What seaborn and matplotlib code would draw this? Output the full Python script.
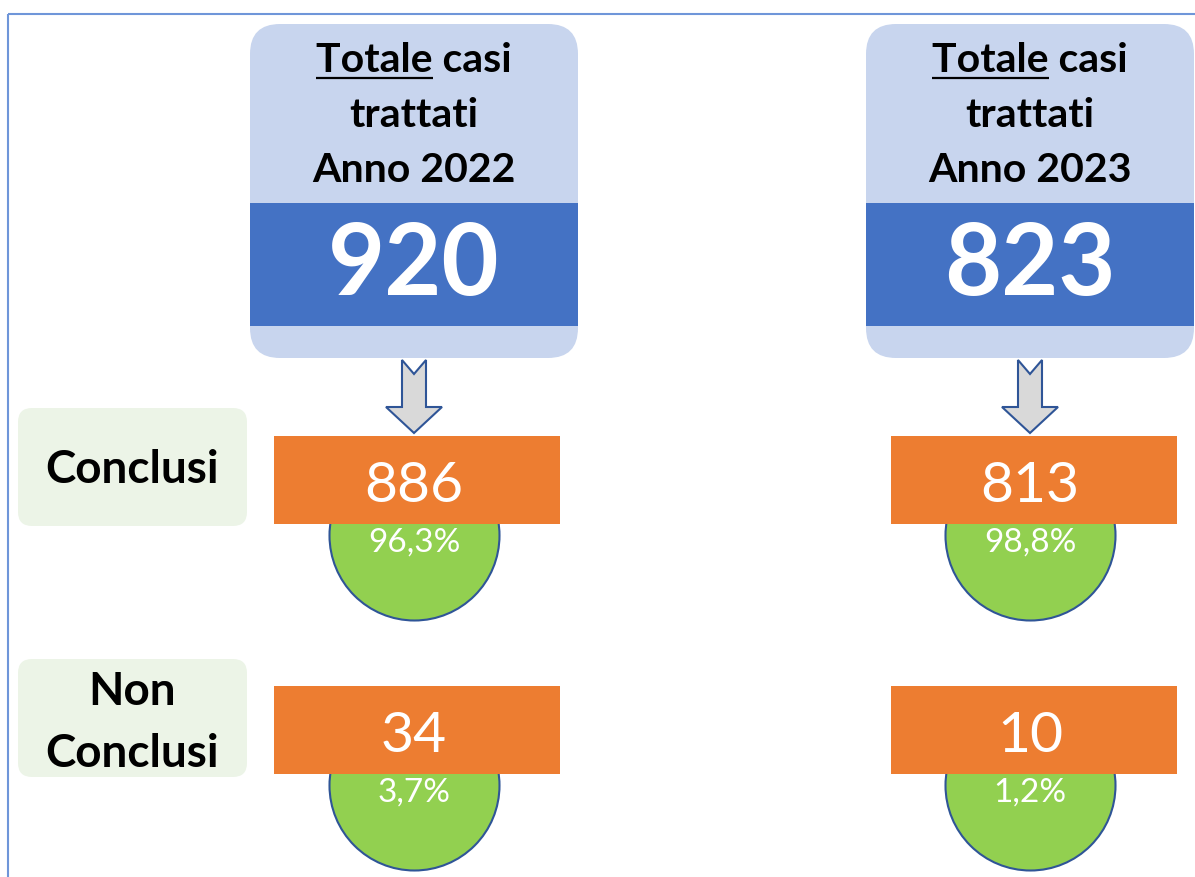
import numpy as np
import pandas as pd
import matplotlib
matplotlib.use("Agg")
import matplotlib.pyplot as plt
import seaborn as sns
from matplotlib.patches import FancyBboxPatch, Rectangle, Polygon

# Data
years = ["2022", "2023"]
totali = [920, 823]
conclusi = [886, 813]
non_conclusi = [34, 10]
pct_conclusi = ["96,3%", "98,8%"]
pct_non_conclusi = ["3,7%", "1,2%"]

sns.set_theme(style="white")
plt.rcParams["font.family"] = ["Lato", "DejaVu Sans"]

W, H = 1195, 877
fig = plt.figure(figsize=(W / 100, H / 100), dpi=100)
ax = fig.add_axes([0, 0, 1, 1])
ax.set_xlim(0, W)
ax.set_ylim(H, 0)
ax.axis("off")

LIGHT_BLUE = "#C8D5EE"
DARK_BLUE = "#4472C4"
ORANGE = "#ED7D31"
GREEN = "#92D050"
EDGE = "#2F5597"
LABEL_BG = "#ECF4E7"
HEAD_FS = 29.5

# outer frame (cut by the image edges)
ax.add_patch(Rectangle((8, 14), W + 20, H + 20, fill=False, ec="#6F96D9", lw=1.5, zorder=0))

# layout of the two columns
col_x0 = [250, 866]
col_w = 328
centers = [x + col_w / 2 for x in col_x0]

renderer = fig.canvas.get_renderer()

for i, cx in enumerate(centers):
    x0 = col_x0[i]
    # header card
    ax.add_patch(FancyBboxPatch((x0, 24), col_w, 334,
                                boxstyle="round,pad=0,rounding_size=30",
                                fc=LIGHT_BLUE, ec="none", zorder=1))
    ax.add_patch(Rectangle((x0, 203), col_w, 123, fc=DARK_BLUE, ec="none", zorder=2))

    t = ax.text(cx, 72, "Totale casi", ha="center", va="baseline",
                fontsize=HEAD_FS, fontweight="bold", color="black", zorder=3)
    ax.text(cx, 127, "trattati", ha="center", va="baseline",
            fontsize=HEAD_FS, fontweight="bold", color="black", zorder=3)
    ax.text(cx, 182, f"Anno {years[i]}", ha="center", va="baseline",
            fontsize=HEAD_FS, fontweight="bold", color="black", zorder=3)
    # underline "Totale"
    bb = t.get_window_extent(renderer)
    tmp = ax.text(0, 0, "Totale", fontsize=HEAD_FS, fontweight="bold")
    wt = tmp.get_window_extent(renderer).width
    tmp.remove()
    ax.plot([bb.x0, bb.x0 + wt], [78, 78], color="black", lw=1.6, zorder=3,
            solid_capstyle="butt")

    ax.text(cx, 295, str(totali[i]), ha="center", va="baseline",
            fontsize=71, fontweight="bold", color="white", zorder=3)

    # arrow
    arrow = [(cx - 12, 360), (cx, 374), (cx + 12, 360), (cx + 12, 407),
             (cx + 28, 407), (cx, 433), (cx - 28, 407), (cx - 12, 407)]
    ax.add_patch(Polygon(arrow, closed=True, fc="#D9D9D9", ec=EDGE, lw=1.5, zorder=3))

# green circles
circ = pd.DataFrame({
    "x": centers * 2,
    "y": [535, 535, 785, 785],
})
sns.scatterplot(data=circ, x="x", y="y", ax=ax, s=(170 * 0.72) ** 2,
                color=GREEN, edgecolor=EDGE, linewidth=1.5, zorder=2, legend=False)
ax.set_xlim(0, W)
ax.set_ylim(H, 0)
ax.axis("off")

# orange value boxes
box_x0 = [274, 891]
box_w = 286
rows = [(436, conclusi, pct_conclusi, 502, 552), (686, non_conclusi, pct_non_conclusi, 752, 802)]
for top, vals, pcts, base_v, base_p in rows:
    for i, cx in enumerate(centers):
        ax.add_patch(Rectangle((box_x0[i], top), box_w, 88, fc=ORANGE, ec="none", zorder=4))
        ax.text(cx, base_v, str(vals[i]), ha="center", va="baseline",
                fontsize=41, color="white", zorder=5)
        ax.text(cx, base_p, pcts[i], ha="center", va="baseline",
                fontsize=24, color="white", zorder=5)

# row labels
ax.add_patch(FancyBboxPatch((18, 408), 229, 118, boxstyle="round,pad=0,rounding_size=14",
                            fc=LABEL_BG, ec="none", zorder=1))
ax.text(132, 483, "Conclusi", ha="center", va="baseline",
        fontsize=33, fontweight="bold", color="black", zorder=3)
ax.add_patch(FancyBboxPatch((18, 659), 229, 118, boxstyle="round,pad=0,rounding_size=14",
                            fc=LABEL_BG, ec="none", zorder=1))
ax.text(132, 705, "Non", ha="center", va="baseline",
        fontsize=33, fontweight="bold", color="black", zorder=3)
ax.text(132, 767, "Conclusi", ha="center", va="baseline",
        fontsize=33, fontweight="bold", color="black", zorder=3)

fig.savefig("out.png", dpi=100)
